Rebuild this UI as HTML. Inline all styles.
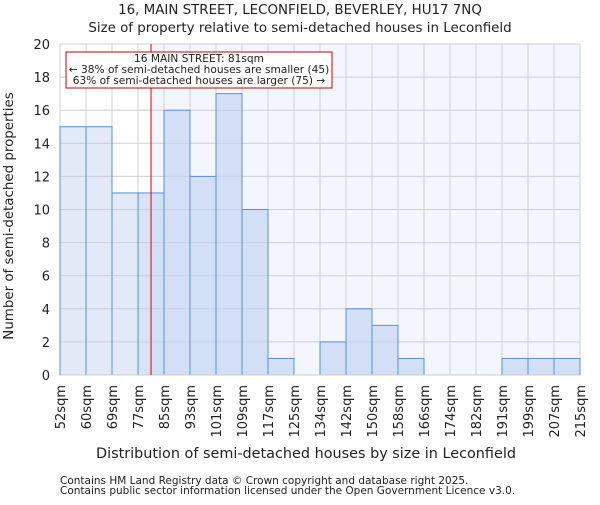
<!DOCTYPE html>
<html><head><meta charset="utf-8"><style>
body{margin:0;background:#fff}
svg text{font-family:"DejaVu Sans","Liberation Sans",sans-serif;fill:#222}
</style></head><body>
<svg id="chart" width="600" height="500">
<text x="300" y="14" text-anchor="middle" font-size="13.4">16, MAIN STREET, LECONFIELD, BEVERLEY, HU17 7NQ</text>
<text x="300" y="32" text-anchor="middle" font-size="13.4">Size of property relative to semi-detached houses in Leconfield</text>
<g id="plot"></g>
<text x="306" y="458" text-anchor="middle" font-size="14.4">Distribution of semi-detached houses by size in Leconfield</text>
<text transform="translate(13,216) rotate(-90)" text-anchor="middle" font-size="13.4">Number of semi-detached properties</text>
<text x="60" y="484" font-size="10.5" fill="#444">Contains HM Land Registry data © Crown copyright and database right 2025.</text>
<text x="60" y="494" font-size="10.5" fill="#444">Contains public sector information licensed under the Open Government Licence v3.0.</text>
</svg>
<script>
const edges=["52sqm","60sqm","69sqm","77sqm","85sqm","93sqm","101sqm","109sqm","117sqm","125sqm","134sqm","142sqm","150sqm","158sqm","166sqm","174sqm","182sqm","191sqm","199sqm","207sqm","215sqm"];
const counts=[15,15,11,11,16,12,17,10,1,0,2,4,3,1,0,0,0,1,1,1];
const yTicks=[0,2,4,6,8,10,12,14,16,18,20];
const markerBin=3.5;
const NS="http://www.w3.org/2000/svg";
const L=60,R=580,T=44,B=375,YMAX=20;
const g=document.getElementById('plot');
const bw=(R-L)/counts.length;
const x=i=>L+i*bw, y=v=>B-(v/YMAX)*(B-T);
function mk(t,a){const e=document.createElementNS(NS,t);for(const k in a)e.setAttribute(k,a[k]);g.appendChild(e);return e;}
const mx=x(markerBin);
let e=mk('rect',{x:L,y:T,width:R-L,height:B-T,fill:'#f3f6fc'});

e=mk('rect',{x:L,y:T,width:mx-L,height:B-T,fill:'#ffffff'});

yTicks.forEach(v=>{
 e=mk('line',{x1:L,x2:R,y1:y(v),y2:y(v),stroke:'#d0d0d0'});
 
 e=mk('text',{x:L-10,y:y(v)+5,'text-anchor':'end','font-size':13});e.textContent=v;
 
});
edges.forEach((s,i)=>{
 e=mk('line',{x1:x(i),x2:x(i),y1:T,y2:B,stroke:'#d0d0d0'});
 
 e=mk('text',{transform:`translate(${x(i)+5},${B+10}) rotate(-90)`,'text-anchor':'end','font-size':13});e.textContent=s;
 
});
counts.forEach((c,i)=>{
 if(c<=0)return;
 const left=x(i+1)<=mx;
 e=mk('rect',{x:x(i),y:y(c),width:bw,height:B-y(c),fill:left?'rgba(190,208,238,0.45)':'rgba(190,208,238,0.6)',stroke:'#5b8fd6','stroke-width':1});
 
});
e=mk('line',{x1:L,x2:R,y1:B,y2:B,stroke:'#cccccc'});

e=mk('line',{x1:mx,x2:mx,y1:T,y2:B,stroke:'#dd0000','stroke-width':1});

e=mk('rect',{x:66,y:52,width:266,height:36,fill:'#fff',stroke:'#cc0000','stroke-width':1});

["16 MAIN STREET: 81sqm","← 38% of semi-detached houses are smaller (45)","63% of semi-detached houses are larger (75) →"].forEach((s,k)=>{
 e=mk('text',{x:199,y:62+k*11,'text-anchor':'middle','font-size':10.6});e.textContent=s;
 
});
</script>
</body></html>
